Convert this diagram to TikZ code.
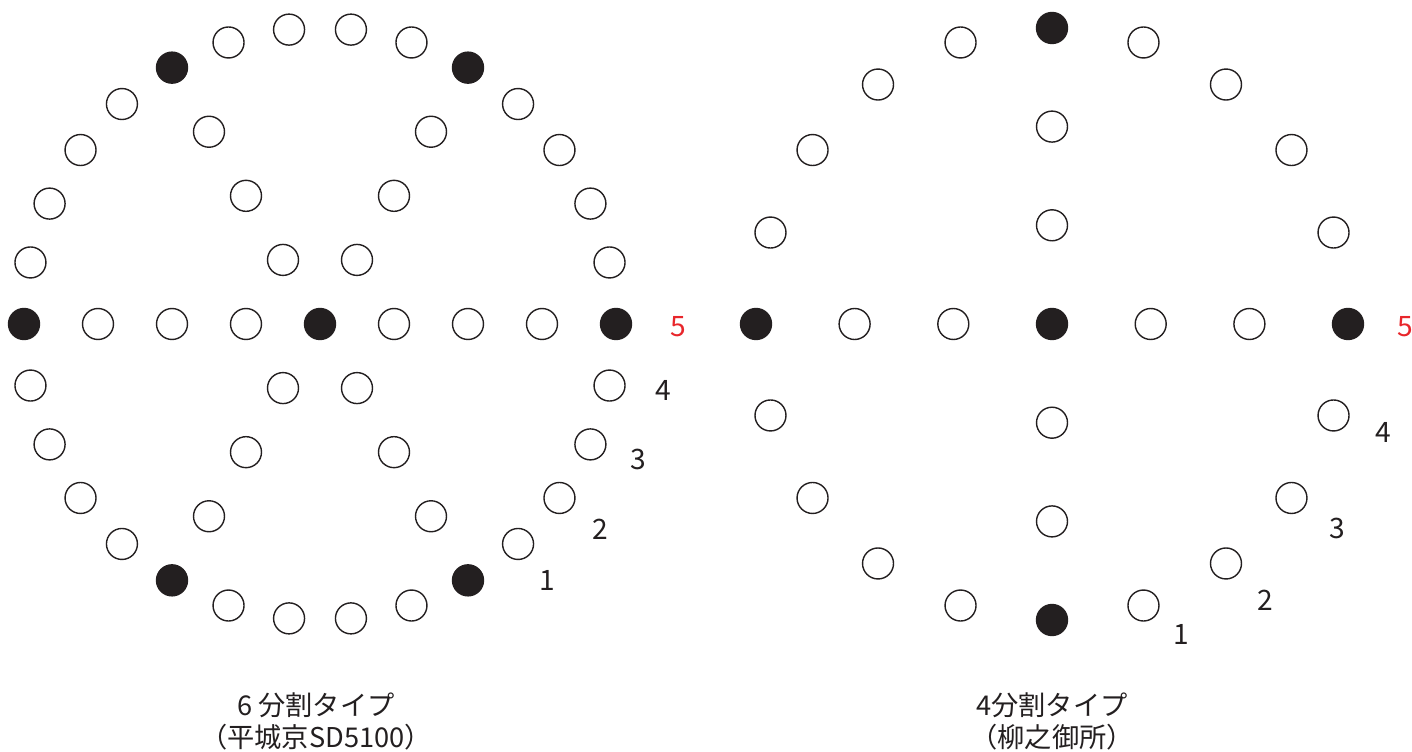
\documentclass[tikz,border=0pt]{standalone}
\usepackage{fontspec}
\setmainfont{Noto Sans CJK JP}
\usetikzlibrary{positioning}
\definecolor{pinblack}{HTML}{231F20}
\definecolor{markred}{HTML}{E8262B}

\tikzset{
  hole/.style={draw=pinblack, circle, line width=0.8pt, minimum size=0.62cm, inner sep=0pt, fill=white},
  pin/.style={hole, fill=pinblack},
  tick/.style={font=\fontsize{16}{18}\selectfont, text=pinblack},
  caption/.style={font=\fontsize{15.5}{18.2}\selectfont, align=center, text=pinblack}
}

\begin{document}
\begin{tikzpicture}[x=0.02cm, y=0.02cm]
  \useasboundingbox (0,0) rectangle (1412,751);

  % six-way type
  \begin{scope}[shift={(320,427)}]
    \node[pin] (six-c) at (0,0) {};
    \foreach \k in {0,...,29} {
      \pgfmathtruncatemacro{\r}{mod(\k,5)}
      \ifnum\r=0 \def\fillc{pinblack}\else\def\fillc{white}\fi
      \node[hole, fill=\fillc] (six-o\k) at (12*\k:296) {};
    }
    \foreach \a in {0,60,...,300}
      \foreach \j in {1,2,3}
        \node[hole] (six-s\a-\j) at (\a:74*\j) {};
    \node[tick] (six-n1) at (227,-256) {1};
    \node[tick] (six-n2) at (280,-205) {2};
    \node[tick] (six-n3) at (318,-135) {3};
    \node[tick] (six-n4) at (343,-66) {4};
    \node[tick, text=markred] (six-n5) at (358,-3) {5};
  \end{scope}

  % four-way type
  \begin{scope}[shift={(1052,427)}]
    \node[pin] (four-c) at (0,0) {};
    \foreach \k in {0,...,19} {
      \pgfmathtruncatemacro{\r}{mod(\k,5)}
      \ifnum\r=0 \def\fillc{pinblack}\else\def\fillc{white}\fi
      \node[hole, fill=\fillc] (four-o\k) at (18*\k:296) {};
    }
    \foreach \a in {0,90,180,270}
      \foreach \j in {1,2}
        \node[hole] (four-s\a-\j) at (\a:98.7*\j) {};
    \node[tick] (four-n1) at (129,-310) {1};
    \node[tick] (four-n2) at (213,-276) {2};
    \node[tick] (four-n3) at (285,-204) {3};
    \node[tick] (four-n4) at (331,-108) {4};
    \node[tick, text=markred] (four-n5) at (353,-3) {5};
  \end{scope}

  \node[caption] (six-cap) at (316,30) {6 分割タイプ\\（平城京SD5100）};
  \node[caption] (four-cap) at (1052,30) {4分割タイプ\\（柳之御所）};
\end{tikzpicture}
\end{document}
